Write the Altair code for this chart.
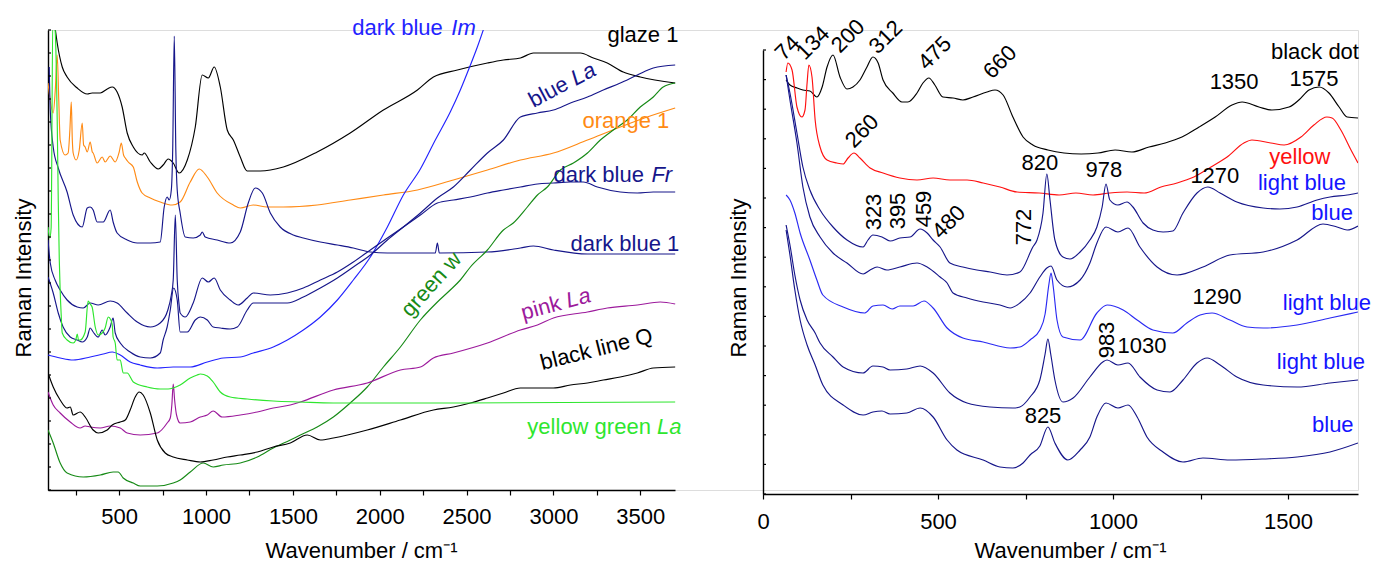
import altair as alt
import pandas as pd

FONT = "Liberation Sans"
FS = 22
NAVY = "#16168a"
BRIGHT = "#2323ff"
ORANGE = "#ff8a14"
DGREEN = "#168a16"
PURPLE = "#9c1a9c"
YGREEN = "#2ee62e"
RED = "#ff1010"
LBLUE = "#2a2af2"
TXTBLUE = "#1414ff"

# ---------------- left panel spectra: (wavenumber, intensity) ----------------
glaze1 = [(131,462),(143,447),(172,423),(200,413),(258,402),(316,396),(344,397),(391,397),(431,401),(460,403),(488,398),(517,383),(546,357),(581,343),(632,335),(644,337),(679,328),(725,321),(753,325),(782,331),(811,327),(845,317),(892,330),(938,363),(978,415),(1013,412),(1047,423),(1082,403),(1122,360),(1157,350),(1197,333),(1237,319),(1312,319),(1445,323),(1640,338),(1830,357),(2021,380),(2217,400),(2309,413),(2447,420),(2620,427),(2712,430),(2810,432),(2885,437),(3000,437),(3155,437),(3230,432),(3310,427),(3402,418),(3500,413),(3701,407)]
orange1 = [(90,407),(120,377),(132,400),(143,435),(152,390),(160,350),(189,335),(206,337),(216,360),(224,388),(230,350),(235,337),(252,330),(270,340),(287,367),(295,345),(304,343),(316,338),(333,348),(345,338),(350,337),(373,327),(402,333),(419,328),(448,334),(477,328),(500,338),(512,347),(525,335),(535,332),(552,328),(581,323),(604,308),(632,297),(679,292),(736,288),(805,285),(851,288),(909,308),(961,321),(1007,313),(1064,297),(1157,285),(1197,282),(1272,285),(1352,283),(1445,283),(1640,285),(1830,290),(2021,295),(2217,300),(2424,310),(2620,320),(2810,330),(3000,337),(3196,350),(3385,363),(3540,373),(3701,382)]
darkblue_im = [(90,135),(160,132),(235,130),(333,133),(408,136),(460,138),(506,135),(563,128),(621,125),(719,122),(811,123),(909,123),(1007,128),(1099,132),(1197,133),(1272,137),(1387,143),(1468,150),(1560,160),(1658,173),(1756,190),(1848,210),(1946,233),(2044,263),(2136,295),(2234,321),(2320,350),(2406,378),(2464,400),(2522,425),(2562,443),(2600,462)]
blue_la = [(90,213),(120,197),(149,177),(177,163),(218,153),(258,150),(287,148),(316,153),(333,162),(350,158),(379,153),(402,160),(419,155),(448,163),(465,172),(477,157),(506,147),(563,138),(621,133),(679,132),(736,137),(753,150),(776,163),(794,180),(813,202),(834,190),(851,158),(892,158),(938,170),(967,173),(1007,170),(1041,163),(1082,162),(1139,161),(1180,163),(1237,180),(1272,187),(1370,187),(1468,187),(1560,193),(1658,202),(1756,212),(1848,223),(1946,235),(2044,250),(2136,263),(2234,277),(2332,292),(2424,303),(2522,320),(2620,337),(2712,350),(2810,373),(2908,377),(3000,380),(3098,387),(3196,393),(3287,400),(3385,407),(3483,415),(3575,422),(3701,425)]
darkblue_fr = [(90,250),(103,227),(131,210),(160,200),(200,190),(258,183),(293,182),(333,187),(379,185),(448,189),(488,187),(546,177),(604,168),(679,163),(736,167),(780,180),(800,195),(811,210),(823,275),(834,210),(845,185),(851,177),(880,173),(926,187),(978,212),(1013,208),(1047,212),(1082,200),(1139,190),(1185,185),(1237,192),(1272,197),(1370,195),(1468,197),(1560,202),(1658,210),(1756,218),(1848,228),(1946,240),(2044,252),(2136,263),(2234,275),(2332,287),(2424,290),(2522,293),(2620,297),(2712,300),(2810,303),(2908,306),(3000,307),(3098,308),(3172,308),(3253,303),(3385,298),(3483,297),(3575,298),(3701,298)]
darkblue_1 = [(97,423),(103,380),(120,343),(149,322),(200,298),(235,275),(287,263),(316,282),(333,283),(350,280),(373,268),(408,268),(448,280),(465,268),(488,257),(546,250),(604,247),(679,247),(736,248),(759,283),(776,293),(788,290),(800,300),(808,340),(817,454),(826,340),(834,300),(851,277),(880,253),(926,252),(967,255),(978,258),(995,253),(1064,250),(1139,247),(1197,258),(1243,287),(1283,302),(1324,297),(1370,277),(1427,263),(1502,255),(1560,252),(1658,248),(1756,245),(1848,242),(1946,238),(2044,237),(2320,237),(2332,247),(2343,237),(2620,238),(2810,242),(2885,244),(3000,240),(3196,236),(3701,236)]
green_w = [(90,60),(120,47),(160,27),(200,17),(293,13),(391,15),(465,18),(494,18),(523,12),(581,7),(621,4),(719,4),(811,7),(851,10),(909,18),(984,27),(1041,23),(1099,25),(1197,27),(1295,33),(1387,42),(1485,50),(1543,55),(1640,63),(1733,73),(1830,87),(1928,103),(2021,123),(2119,143),(2234,170),(2332,188),(2406,200),(2464,210),(2522,223),(2620,240),(2712,260),(2769,267),(2850,283),(2908,295),(2965,303),(3040,320),(3115,327),(3196,337),(3270,350),(3345,360),(3425,370),(3500,383),(3575,393),(3632,403),(3701,407)]
pink_la = [(90,98),(120,85),(160,77),(218,68),(275,62),(304,64),(333,63),(391,62),(448,64),(506,62),(546,57),(621,55),(719,57),(776,67),(794,72),(803,85),(811,106),(819,90),(830,75),(851,67),(909,68),(967,73),(1007,75),(1041,79),(1093,73),(1197,75),(1295,78),(1387,82),(1485,85),(1543,88),(1733,100),(1928,107),(2119,120),(2234,123),(2309,132),(2424,137),(2620,147),(2810,160),(2908,165),(3000,172),(3196,178),(3310,182),(3483,185),(3615,188),(3701,186)]
black_q = [(90,117),(120,103),(160,90),(200,82),(218,83),(235,75),(275,78),(304,73),(350,60),(379,57),(431,60),(460,65),(506,68),(535,70),(563,80),(592,93),(615,98),(638,95),(679,77),(719,50),(765,37),(811,33),(892,30),(967,28),(1041,30),(1122,33),(1197,35),(1295,38),(1387,43),(1485,47),(1583,55),(1658,50),(1733,52),(1928,60),(2119,70),(2309,80),(2424,83),(2522,87),(2620,92),(2712,97),(2810,102),(2908,102),(3000,102),(3098,105),(3196,107),(3287,110),(3385,113),(3483,117),(3575,122),(3701,123)]
ygreen_la = [(90,263),(100,252),(108,262),(118,475),(131,460),(143,370),(149,290),(155,230),(160,200),(166,175),(172,157),(200,150),(235,147),(250,150),(258,156),(266,150),(275,150),(304,158),(321,189),(333,186),(344,183),(362,163),(379,155),(402,157),(419,162),(437,173),(452,170),(460,165),(465,153),(477,147),(488,130),(506,130),(523,117),(546,117),(581,108),(661,103),(736,101),(782,101),(811,102),(851,105),(909,112),(949,115),(967,116),(1007,114),(1041,108),(1082,98),(1139,93),(1237,91),(1387,89),(1543,88),(1733,87),(2464,87),(3701,88)]

# ---------------- right panel spectra ----------------
black_dot = [(66,414),(77,409),(97,406),(114,404),(134,403),(154,397),(169,407),(183,427),(200,439),(220,417),(240,405),(257,407),(277,414),(297,427),(314,437),(329,431),(343,414),(371,401),(397,392),(414,392),(440,401),(457,411),(474,416),(491,409),(514,397),(543,396),(571,394),(600,397),(640,402),(663,404),(686,399),(714,377),(743,357),(771,349),(814,344),(860,341),(909,340),(957,341),(1006,344),(1054,342),(1103,347),(1149,351),(1197,357),(1246,367),(1292,377),(1340,389),(1369,392),(1417,387),(1454,384),(1503,387),(1531,394),(1560,404),(1589,407),(1617,401),(1646,387),(1669,377),(1700,376)]
yellow = [(66,422),(71,431),(83,424),(97,387),(111,377),(120,384),(126,411),(131,429),(140,417),(149,374),(163,347),(183,334),(211,331),(229,330),(243,336),(260,341),(277,336),(306,326),(343,321),(391,316),(440,314),(486,316),(534,314),(583,314),(629,311),(677,307),(726,302),(789,301),(846,299),(894,301),(943,299),(991,301),(1040,302),(1089,301),(1137,307),(1183,311),(1231,317),(1280,327),(1326,337),(1374,351),(1397,354),(1451,351),(1489,349),(1537,357),(1574,369),(1611,377),(1626,376),(1651,364),(1680,344),(1700,331)]
lightblue_a = [(66,419),(77,401),(97,361),(114,327),(134,304),(163,284),(200,267),(240,254),(286,247),(300,254),(314,259),(340,257),(363,253),(391,256),(420,257),(449,265),(469,261),(486,254),(506,247),(534,231),(571,227),(611,224),(649,222),(697,219),(734,222),(771,247),(783,254),(800,281),(811,320),(820,294),(834,254),(857,237),(877,235),(906,242),(934,254),(954,267),(969,287),(980,310),(991,294),(1014,289),(1040,292),(1057,287),(1086,271),(1114,264),(1143,262),(1171,263),(1200,281),(1240,301),(1271,307),(1306,301),(1354,292),(1429,286),(1477,285),(1526,287),(1583,294),(1620,297),(1669,299),(1700,301)]
blue_a = [(66,419),(77,394),(97,351),(114,307),(134,277),(163,257),(200,241),(240,231),(286,220),(306,224),(326,227),(354,224),(391,227),(440,231),(469,227),(506,217),(526,211),(543,201),(583,196),(629,192),(677,189),(706,186),(734,191),(763,201),(791,217),(811,226),(823,228),(840,214),(869,207),(906,214),(934,231),(954,251),(980,267),(1014,262),(1043,266),(1077,247),(1126,227),(1183,219),(1257,227),(1334,239),(1429,242),(1526,254),(1600,270),(1640,267),(1669,264),(1700,268)]
lightblue_b = [(66,299),(77,294),(91,281),(106,261),(134,234),(154,214),(171,199),(229,187),(291,181),(314,188),(343,189),(369,185),(391,188),(429,188),(460,193),(486,186),(526,166),(571,156),(629,152),(706,146),(734,147),(763,154),(791,164),(806,180),(817,210),(823,221),(829,208),(840,174),(857,157),(906,154),(954,181),(983,189),(1029,184),(1069,174),(1114,164),(1171,161),(1211,171),(1249,179),(1283,181),(1334,174),(1383,167),(1429,166),(1526,169),(1620,176),(1700,182)]
lightblue_c = [(66,269),(77,249),(91,219),(106,194),(126,174),(149,161),(163,151),(200,137),(229,127),(286,121),(314,128),(343,127),(363,124),(411,125),(449,128),(486,121),(534,101),(583,91),(649,87),(714,86),(734,87),(763,97),(791,114),(806,140),(814,155),(822,140),(834,114),(857,92),(886,96),(934,117),(971,132),(983,134),(1014,129),(1043,131),(1077,117),(1126,104),(1163,102),(1200,114),(1240,131),(1269,136),(1306,129),(1354,117),(1429,109),(1526,107),(1620,111),(1700,114)]
blue_b = [(66,264),(77,239),(91,204),(106,174),(126,149),(149,129),(171,109),(229,89),(286,79),(314,82),(340,83),(363,80),(411,81),(449,86),(486,77),(526,54),(554,44),(629,34),(677,27),(714,26),(743,31),(763,39),(791,48),(814,67),(834,51),(871,34),(906,44),(934,57),(954,77),(980,91),(1014,86),(1043,89),(1069,77),(1097,57),(1143,42),(1200,32),(1257,36),(1334,34),(1429,35),(1526,37),(1620,42),(1700,51)]

left_series = [
    ("glaze 1", "black", glaze1), ("orange 1", ORANGE, orange1),
    ("dark blue Im", BRIGHT, darkblue_im), ("blue La", NAVY, blue_la),
    ("dark blue Fr", NAVY, darkblue_fr), ("dark blue 1", NAVY, darkblue_1),
    ("green w", DGREEN, green_w), ("pink La", PURPLE, pink_la),
    ("black line Q", "black", black_q), ("yellow green La", YGREEN, ygreen_la),
]
right_series = [
    ("black dot", "black", black_dot), ("yellow", RED, yellow),
    ("light blue a", NAVY, lightblue_a), ("blue a", NAVY, blue_a),
    ("light blue b", LBLUE, lightblue_b), ("light blue c", NAVY, lightblue_c),
    ("blue b", NAVY, blue_b),
]

# labels: (text, wavenumber, intensity, colour, angle)
left_labels = [
    ("glaze 1", 3311, 448, "black", 0), ("dark blue", 1842, 455, BRIGHT, 0),
    ("orange 1", 3167, 362, ORANGE, 0), ("dark blue", 3000, 308, NAVY, 0),
    ("dark blue 1", 3098, 239, NAVY, 0), ("yellow green", 2850, 56, YGREEN, 0),
    ("pink", 2827, 170, PURPLE, 345), ("black line  Q", 2936, 120, "black", 346),
    ("blue", 2885, 382, NAVY, 332), ("green w", 2176, 172, DGREEN, 312),
]
left_labels_it = [
    ("Im", 2412, 455, BRIGHT, 0), ("Fr", 3564, 308, NAVY, 0),
    ("La", 3597, 56, YGREEN, 0), ("La", 3086, 182, PURPLE, 345),
    ("La", 3129, 404, NAVY, 332),
]
right_labels = [
    ("74", 70, 446, "black", 315), ("134", 143, 451, "black", 315),
    ("200", 243, 458, "black", 315), ("312", 351, 457, "black", 315),
    ("475", 491, 441, "black", 315), ("660", 677, 432, "black", 315),
    ("260", 283, 363, "black", 315), ("480", 531, 272, "black", 315),
    ("323", 317, 282, "black", 270), ("395", 386, 283, "black", 270),
    ("459", 460, 285, "black", 270), ("772", 746, 267, "black", 270),
    ("983", 983, 154, "black", 270),
    ("820", 791, 331, "black", 0), ("978", 974, 324, "black", 0),
    ("1270", 1291, 318, "black", 0), ("1350", 1346, 412, "black", 0),
    ("1575", 1574, 415, "black", 0), ("black dot", 1577, 442, "black", 0),
    ("1290", 1297, 197, "black", 0), ("1030", 1083, 148, "black", 0),
    ("825", 800, 78, "black", 0),
    ("yellow", 1534, 337, RED, 0), ("light blue", 1540, 311, TXTBLUE, 0),
    ("blue", 1626, 281, TXTBLUE, 0), ("light blue", 1611, 191, TXTBLUE, 0),
    ("light blue", 1594, 132, TXTBLUE, 0), ("blue", 1628, 69, TXTBLUE, 0),
]

left_yticks = [23 * k for k in range(21)]
right_yticks = [29.6 * k for k in range(16)]


def spectra_frame(series):
    rows = []
    for name, color, pts in series:
        for w, v in pts:
            rows.append({"s": name, "c": color, "w": w, "v": v})
    return pd.DataFrame(rows)


def label_frame(labels):
    return pd.DataFrame([{"t": t, "w": w, "v": v, "c": c, "a": a} for t, w, v, c, a in labels])


def x_axis(values, offset, title_x, title_y, pad):
    return alt.Axis(
        orient="bottom", offset=offset, values=values, format="d",
        labelExpr="datum.value % 500 === 0 ? datum.label : ''",
        grid=False, tickSize=5, tickColor="black", tickWidth=1.2,
        domainColor="black", domainWidth=1.4, labelFont=FONT, labelFontSize=FS,
        labelColor="black", labelPadding=pad, labelFlush=False, labelOverlap=False,
        title="Wavenumber / cm⁻¹", titleFont=FONT, titleFontSize=FS,
        titleFontWeight="normal", titleColor="black", titleX=title_x, titleY=title_y,
        titleAlign="center", titleBaseline="alphabetic",
    )


def y_axis(offset, title):
    return alt.Axis(
        orient="left", offset=offset, labels=False, ticks=False, grid=False,
        domainColor="black", domainWidth=1.4, title=title, titleFont=FONT,
        titleFontSize=FS, titleFontWeight="normal", titleColor="black",
        titleAngle=270, titleX=-18, titleY=247.5, titleAlign="center",
        titleBaseline="alphabetic",
    )


def panel(series, labels, labels_it, yticks, xs, ys, xa, ya, tick_x0, label_align, label_base):
    X = alt.X("w:Q", scale=xs, axis=xa)
    Y = alt.Y("v:Q", scale=ys, axis=ya)
    lines = alt.Chart(spectra_frame(series)).mark_line(
        strokeWidth=1.15, clip=True, interpolate="monotone").encode(
        x=X, y=Y, color=alt.Color("c:N", scale=None), detail="s:N")
    ticks = alt.Chart(pd.DataFrame({"v": yticks})).mark_rule(color="black", strokeWidth=1.2).encode(
        y=Y, x=alt.value(tick_x0), x2=alt.value(tick_x0 + 3))
    layers = [lines, ticks]
    for labs, style in ((labels, "normal"), (labels_it, "italic")):
        if not labs:
            continue
        layers.append(alt.Chart(label_frame(labs)).mark_text(
            font=FONT, fontSize=FS, fontStyle=style, align=label_align, baseline=label_base).encode(
            x=X, y=Y, text="t:N", color=alt.Color("c:N", scale=None),
            angle=alt.Angle("a:Q", scale=None)))
    return alt.layer(*layers)


left = panel(
    left_series, left_labels, left_labels_it, left_yticks,
    alt.Scale(domain=[90, 3700], range=[0, 627], nice=False, zero=False),
    alt.Scale(domain=[0, 460], range=[460, 0], nice=False, zero=False),
    x_axis(list(range(250, 3501, 250)), 0, 313, 67, 11),
    y_axis(0, "Raman Intensity"), 0, "left", "alphabetic")

right = panel(
    right_series, right_labels, [], right_yticks,
    alt.Scale(domain=[0, 1700], range=[715, 1310], nice=False, zero=False),
    alt.Scale(domain=[0, 444], range=[464, 20], nice=False, zero=False),
    x_axis(list(range(0, 1501, 250)), 4, 1022, 63, 12),
    y_axis(-715, "Raman  Intensity"), 715, "center", "middle")

chart = alt.layer(left, right).resolve_scale(x="independent", y="independent").resolve_axis(
    x="independent", y="independent").properties(
    width=1310, height=460,
    autosize=alt.AutoSizeParams(type="none"),
    padding={"left": 48, "top": 30, "right": 18, "bottom": 73},
).configure_view(stroke=None).configure(background="white")

chart.save("out.html", embed_options={"renderer": "svg", "actions": False})
